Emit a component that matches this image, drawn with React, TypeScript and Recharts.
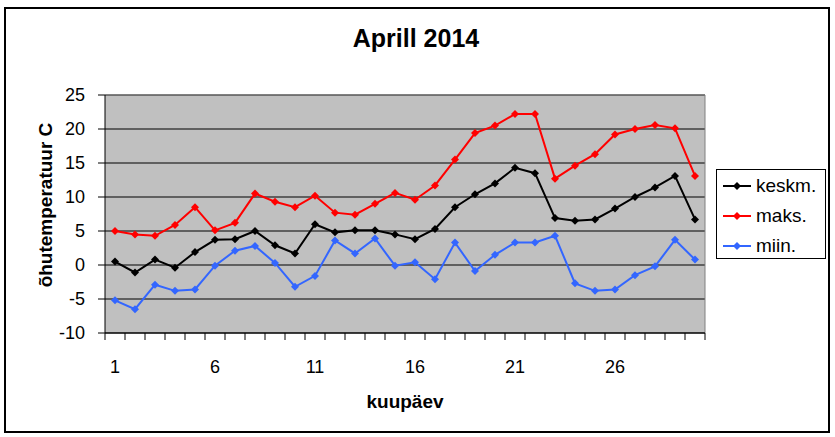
import { LineChart, Line, XAxis, YAxis, CartesianGrid, ReferenceLine, Legend } from "recharts";

const days = [1, 2, 3, 4, 5, 6, 7, 8, 9, 10, 11, 12, 13, 14, 15, 16, 17, 18, 19, 20, 21, 22, 23, 24, 25, 26, 27, 28, 29, 30];
const keskm = [0.5, -1.1, 0.8, -0.4, 1.9, 3.7, 3.8, 5.0, 2.9, 1.7, 6.0, 4.8, 5.1, 5.1, 4.5, 3.8, 5.3, 8.5, 10.4, 12.0, 14.3, 13.5, 6.9, 6.5, 6.7, 8.3, 10.0, 11.4, 13.1, 6.7];
const maks = [5.0, 4.5, 4.3, 5.9, 8.5, 5.1, 6.2, 10.5, 9.3, 8.5, 10.2, 7.7, 7.4, 9.0, 10.6, 9.6, 11.7, 15.5, 19.4, 20.5, 22.2, 22.2, 12.7, 14.6, 16.3, 19.2, 20.0, 20.6, 20.1, 13.1];
const miin = [-5.2, -6.5, -2.9, -3.8, -3.6, -0.1, 2.1, 2.8, 0.3, -3.2, -1.6, 3.6, 1.7, 3.9, -0.1, 0.4, -2.1, 3.3, -0.9, 1.5, 3.3, 3.3, 4.3, -2.7, -3.8, -3.6, -1.5, -0.2, 3.7, 0.8];
const dayLabels = [1, 6, 11, 16, 21, 26];
const yTicks = [-10, -5, 0, 5, 10, 15, 20, 25];

const FONT = '"Liberation Sans", Arial, sans-serif';
const BLACK = "#000000";
const RED = "#ff0000";
const BLUE = "#3366ff";

const data = days.map((day, i) => ({ day, keskm: keskm[i], maks: maks[i], miin: miin[i] }));

// tick marks sit between the days (Excel style), labels sit on the days
const boundaries = days.map((d) => d - 0.5).concat(days[days.length - 1] + 0.5);
const xTicks = [...boundaries, ...dayLabels].sort((a, b) => a - b);

const diamond = (color: string) => (props: any) => {
  const { cx, cy, index } = props;
  if (cx == null || cy == null) return <g key={index} />;
  return (
    <polygon
      key={index}
      points={`${cx},${cy - 4} ${cx + 4},${cy} ${cx},${cy + 4} ${cx - 4},${cy}`}
      fill={color}
    />
  );
};

function DayTick({ x, y, payload }: any) {
  const v = payload.value;
  if (dayLabels.includes(v)) {
    return (
      <text x={x} y={y + 40} textAnchor="middle" fontSize={18} fontFamily={FONT} fill={BLACK}>
        {v}
      </text>
    );
  }
  return <line x1={x} x2={x} y1={y} y2={y + 7} stroke={BLACK} strokeWidth={1} />;
}

function LegendBox({ payload }: any) {
  return (
    <div
      style={{
        width: 110,
        height: 90,
        border: "1px solid #000",
        background: "#fff",
        boxSizing: "border-box",
        paddingTop: 1,
        fontFamily: FONT,
        fontSize: 19,
      }}
    >
      {(payload || []).map((p: any) => (
        <div key={p.value} style={{ display: "flex", alignItems: "center", height: 30 }}>
          <svg width={28} height={10} style={{ marginLeft: 6, marginRight: 5 }}>
            <line x1={0} x2={28} y1={5} y2={5} stroke={p.color} strokeWidth={2} />
            <polygon points="14,1 18,5 14,9 10,5" fill={p.color} />
          </svg>
          <span>{p.value}</span>
        </div>
      ))}
    </div>
  );
}

export default function App() {
  return (
    <div style={{ position: "absolute", left: 0, top: 0, width: 835, height: 437, background: "#fff" }}>
      <LineChart
        width={835}
        height={437}
        data={data}
        margin={{ top: 95, right: 130, bottom: 74, left: 45 }}
      >
        <CartesianGrid vertical={false} stroke={BLACK} fill="#c0c0c0" fillOpacity={1} />
        <XAxis
          dataKey="day"
          type="number"
          domain={[0.5, 30.5]}
          ticks={xTicks}
          interval={0}
          height={30}
          tickLine={false}
          tickSize={0}
          tickMargin={0}
          axisLine={{ stroke: BLACK }}
          tick={<DayTick />}
        />
        <YAxis
          domain={[-10, 25]}
          ticks={yTicks}
          interval={0}
          width={60}
          tickSize={7}
          tickMargin={13}
          axisLine={{ stroke: BLACK }}
          tickLine={{ stroke: BLACK }}
          tick={{ fontSize: 18, fill: BLACK, fontFamily: FONT }}
        />
        <ReferenceLine y={25} stroke="#808080" />
        <ReferenceLine x={30.5} stroke="#808080" />
        <Line dataKey="keskm" name="keskm." stroke={BLACK} strokeWidth={2} dot={diamond(BLACK)} isAnimationActive={false} />
        <Line dataKey="maks" name="maks." stroke={RED} strokeWidth={2} dot={diamond(RED)} isAnimationActive={false} />
        <Line dataKey="miin" name="miin." stroke={BLUE} strokeWidth={2} dot={diamond(BLUE)} isAnimationActive={false} />
        <Legend
          layout="vertical"
          align="center"
          verticalAlign="middle"
          content={<LegendBox />}
          wrapperStyle={{ left: 716, top: 169, width: 110, height: 90 }}
        />
      </LineChart>
      <svg
        width={835}
        height={437}
        style={{ position: "absolute", left: 0, top: 0, pointerEvents: "none" }}
      >
        <rect x={5} y={8} width={824} height={424} fill="none" stroke={BLACK} strokeWidth={2} />
        <text x={416} y={47} textAnchor="middle" fontSize={25} fontWeight="bold" fontFamily={FONT}>
          Aprill 2014
        </text>
        <text x={405} y={408} textAnchor="middle" fontSize={19} fontWeight="bold" fontFamily={FONT}>
          kuupäev
        </text>
        <text
          x={52}
          y={205}
          textAnchor="middle"
          fontSize={19}
          fontWeight="bold"
          fontFamily={FONT}
          transform="rotate(-90, 52, 205)"
        >
          õhutemperatuur C
        </text>
      </svg>
    </div>
  );
}
